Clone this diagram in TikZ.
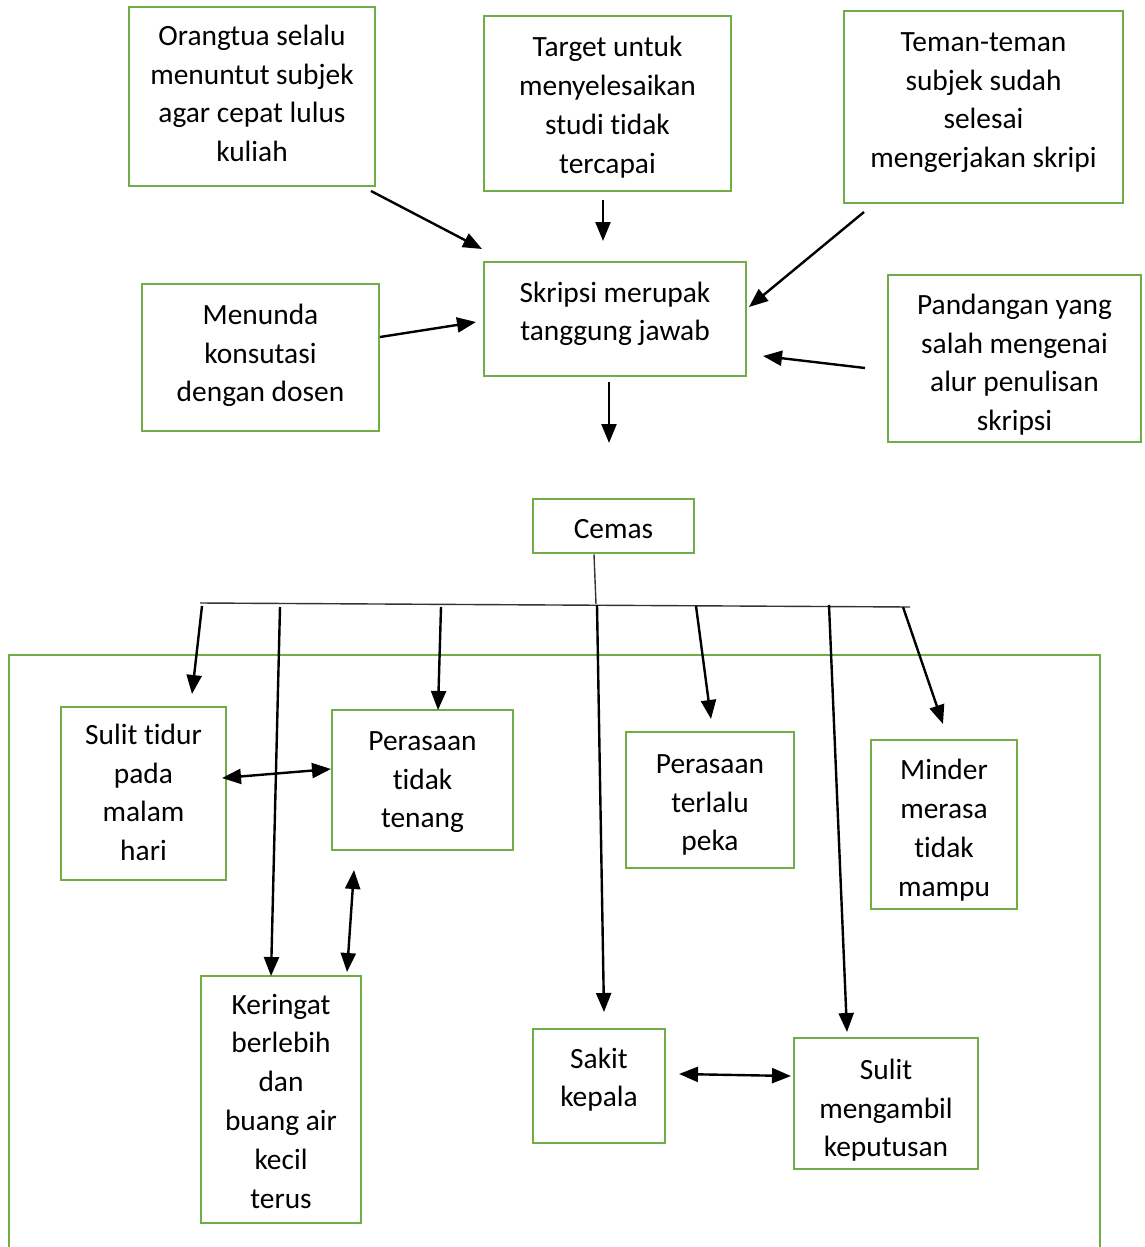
\documentclass[tikz,border=0pt]{standalone}
\usepackage{fontspec}
\setmainfont{Carlito}[Ligatures={NoCommon}]
\usetikzlibrary{arrows.meta}
\definecolor{boxgreen}{RGB}{112,173,71}
\begin{document}
\begin{tikzpicture}[x=1pt,y=-1pt,
  box/.style={draw=boxgreen,line width=2.6pt,align=center,inner sep=0pt,
    font=\fontsize{29.4}{38.8}\selectfont},
  th/.style={text height=#1pt,text depth=0pt},
  arr/.style={line width=2.4pt,-{Triangle[length=19pt,width=15pt]}},
  darr/.style={line width=2.4pt,{Triangle[length=19pt,width=15pt]}-{Triangle[length=19pt,width=15pt]}},
  thin/.style={line width=1.4pt,draw=black!80}]
\useasboundingbox (0,0) rectangle (1144,1247);
\fill[white] (0,0) rectangle (1144,1247);
% big container (open at bottom)
\draw[boxgreen,line width=2.6pt] (9,1260) -- (9,655) -- (1100,655) -- (1100,1260);
% boxes
\node[box,th=130.4,minimum width=246pt,minimum height=179pt] (orang) at (252,96.5) {Orangtua selalu\\menuntut subjek\\agar cepat lulus\\kuliah};
\node[box,th=139.4,minimum width=247pt,minimum height=175pt] (target) at (607.5,103.5) {Target untuk\\menyelesaikan\\studi tidak\\tercapai};
\node[box,th=121.4,minimum width=279pt,minimum height=192pt] (teman) at (983.5,107) {Teman-teman\\subjek sudah\\selesai\\mengerjakan skripi};
\node[box,th=88.6,minimum width=237pt,minimum height=147pt] (tunda) at (260.5,357.5) {Menunda\\konsutasi\\dengan dosen};
\node[box,th=43.8,minimum width=262pt,minimum height=114pt] (skripsi) at (615,319) {Skripsi merupak\\tanggung jawab};
\node[box,th=144.4,minimum width=253pt,minimum height=167pt] (pandang) at (1014.5,358.5) {Pandangan yang\\salah mengenai\\alur penulisan\\skripsi};
\node[box,th=24,minimum width=161pt,minimum height=54pt] (cemas) at (613.5,526) {Cemas};
\node[box,th=134.4,minimum width=165pt,minimum height=173pt] (tidur) at (143.5,793.5) {Sulit tidur\\pada\\malam\\hari};
\node[box,th=95.6,minimum width=181pt,minimum height=140pt] (tenang) at (422.5,780) {Perasaan\\tidak\\tenang};
\node[box,th=101.6,minimum width=168pt,minimum height=136pt] (peka) at (710,800) {Perasaan\\terlalu\\peka};
\node[box,th=143.4,minimum width=146pt,minimum height=169pt] (minder) at (944,824.5) {Minder\\merasa\\tidak\\mampu};
\node[box,th=217,minimum width=160pt,minimum height=247pt] (keringat) at (281,1099.5) {Keringat\\berlebih\\dan\\buang air\\kecil\\terus};
\node[box,th=41.8,minimum width=132pt,minimum height=114pt] (sakit) at (599,1086) {Sakit\\kepala};
\node[box,th=106.6,minimum width=184pt,minimum height=131pt] (putus) at (886,1103.5) {Sulit\\mengambil\\keputusan};
% coordinates
\coordinate (a1) at (371,191); \coordinate (b1) at (482,249);
\coordinate (a2) at (603,200); \coordinate (b2) at (603,241);
\coordinate (a3) at (864,212); \coordinate (b3) at (749,307);
\coordinate (a4) at (380,337); \coordinate (b4) at (476,322);
\coordinate (a5) at (865,368); \coordinate (b5) at (763,356);
\coordinate (a6) at (609,382); \coordinate (b6) at (609,443);
\coordinate (c0) at (596,604);
\coordinate (hl) at (200,603); \coordinate (hr) at (910,607);
\coordinate (t1) at (202,606); \coordinate (t2) at (280,607);
\coordinate (t3) at (441,607); \coordinate (t4) at (597,605);
\coordinate (t5) at (696,606); \coordinate (t6) at (829,605);
\coordinate (t7) at (903,607);
\coordinate (e1) at (192,694); \coordinate (e2) at (271,976);
\coordinate (e3) at (438,710); \coordinate (e4) at (604,1012);
\coordinate (e5) at (711,719); \coordinate (e6) at (847,1032);
\coordinate (e7) at (943,724);
\coordinate (d1) at (222,778); \coordinate (d2) at (331,769);
\coordinate (d3) at (354,870); \coordinate (d4) at (347,972);
\coordinate (d5) at (679,1074); \coordinate (d6) at (791,1076);
% upper arrows
\draw[arr] (a1) -- (b1);
\draw[arr] (a2) -- (b2);
\draw[arr] (a3) -- (b3);
\draw[arr] (a4) -- (b4);
\draw[arr] (a5) -- (b5);
\draw[arr] (a6) -- (b6);
% tree
\draw[thin] (cemas.south -| 594,0) -- (c0);
\draw[thin] (hl) -- (hr);
\draw[arr] (t1) -- (e1);
\draw[arr] (t2) -- (e2);
\draw[arr] (t3) -- (e3);
\draw[arr] (t4) -- (e4);
\draw[arr] (t5) -- (e5);
\draw[arr] (t6) -- (e6);
\draw[arr] (t7) -- (e7);
% double arrows
\draw[darr] (d1) -- (d2);
\draw[darr] (d3) -- (d4);
\draw[darr] (d5) -- (d6);
\end{tikzpicture}
\end{document}
